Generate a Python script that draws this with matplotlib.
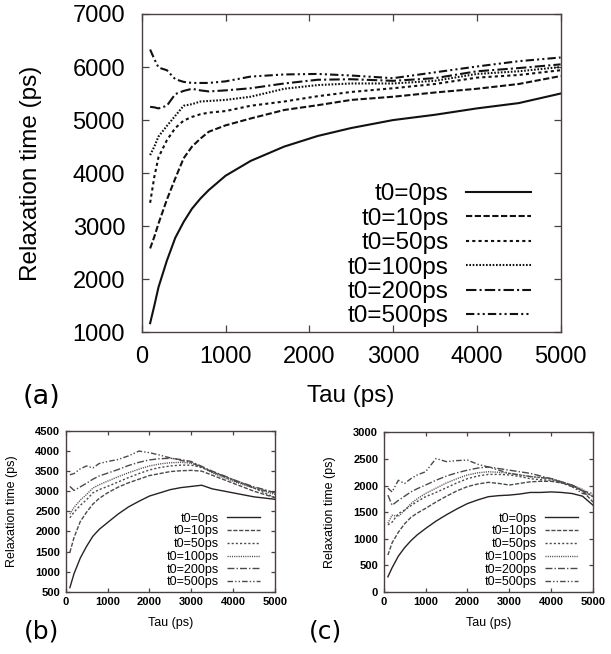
import matplotlib
matplotlib.use("Agg")
import matplotlib.pyplot as plt

plt.rcParams['font.family'] = ['Liberation Sans', 'DejaVu Sans']

labels = ["t0=0ps", "t0=10ps", "t0=50ps", "t0=100ps", "t0=200ps", "t0=500ps"]

# (a) top panel
tau_a = [100, 150, 200, 300, 400, 500, 600, 700, 800, 1000, 1300, 1700,
         2100, 2500, 3000, 3500, 4000, 4500, 5000]
a_t0 = [1170, 1500, 1850, 2350, 2780, 3080, 3330, 3520, 3680, 3950, 4230, 4500,
        4700, 4850, 5000, 5100, 5220, 5320, 5500]
a_t10 = [2580, 2800, 3050, 3500, 3900, 4280, 4500, 4650, 4780, 4900, 5030, 5190,
         5280, 5380, 5440, 5520, 5590, 5680, 5830]
a_t50 = [3440, 3930, 4300, 4620, 4850, 4990, 5060, 5110, 5140, 5170, 5270, 5350,
         5450, 5530, 5600, 5680, 5800, 5850, 5940]
a_t100 = [4340, 4500, 4690, 4890, 5080, 5270, 5300, 5350, 5360, 5380, 5440, 5590,
          5660, 5690, 5690, 5740, 5870, 5920, 6000]
a_t200 = [5250, 5240, 5220, 5270, 5490, 5550, 5590, 5560, 5540, 5560, 5600, 5690,
          5760, 5770, 5740, 5790, 5920, 5980, 6050]
a_t500 = [6330, 6150, 5990, 5940, 5770, 5720, 5700, 5700, 5700, 5730, 5820, 5860,
          5870, 5840, 5790, 5900, 6010, 6110, 6180]

# (b) and (c) bottom panels
tau_bc = [100, 200, 350, 500, 650, 800, 1000, 1250, 1500, 1750, 2000, 2250, 2500,
          2750, 3000, 3250, 3500, 3750, 4000, 4250, 4500, 4750, 5000]
b_t0 = [600, 950, 1340, 1630, 1880, 2050, 2220, 2430, 2610, 2750, 2880, 2960, 3040,
        3090, 3120, 3150, 3060, 3010, 2960, 2910, 2860, 2830, 2800]
b_t10 = [1480, 1850, 2250, 2480, 2680, 2820, 2960, 3100, 3210, 3300, 3390, 3440, 3490,
         3510, 3520, 3500, 3400, 3300, 3200, 3100, 3000, 2920, 2840]
b_t50 = [2340, 2480, 2650, 2790, 2960, 3040, 3120, 3230, 3340, 3440, 3530, 3590, 3630,
         3650, 3650, 3590, 3480, 3390, 3290, 3190, 3080, 2960, 2840]
b_t100 = [2430, 2600, 2780, 2920, 3080, 3160, 3250, 3360, 3460, 3550, 3630, 3680, 3710,
          3720, 3700, 3600, 3460, 3350, 3250, 3160, 3080, 3000, 2920]
b_t200 = [3120, 3020, 3110, 3200, 3300, 3380, 3450, 3540, 3640, 3720, 3780, 3810, 3820,
          3790, 3740, 3620, 3500, 3400, 3290, 3200, 3110, 3040, 2960]
b_t500 = [3410, 3440, 3560, 3630, 3580, 3690, 3740, 3790, 3880, 4000, 3960, 3900, 3830,
          3770, 3710, 3600, 3480, 3380, 3270, 3180, 3080, 3020, 2960]

c_t0 = [280, 450, 670, 830, 960, 1070, 1190, 1330, 1450, 1560, 1660, 1730, 1790,
        1810, 1820, 1840, 1870, 1870, 1880, 1870, 1850, 1800, 1630]
c_t10 = [690, 920, 1120, 1280, 1400, 1480, 1570, 1690, 1800, 1900, 1980, 2030, 2060,
         2040, 2010, 2040, 2070, 2080, 2080, 2050, 2010, 1900, 1690]
c_t50 = [1260, 1310, 1470, 1540, 1620, 1700, 1790, 1870, 1960, 2050, 2130, 2180, 2210,
         2210, 2200, 2170, 2130, 2110, 2100, 2050, 1980, 1900, 1790]
c_t100 = [1290, 1440, 1420, 1530, 1660, 1750, 1850, 1950, 2050, 2130, 2200, 2240, 2260,
          2250, 2230, 2200, 2170, 2150, 2130, 2070, 2010, 1930, 1790]
c_t200 = [1820, 1630, 1720, 1800, 1880, 1940, 2010, 2100, 2180, 2240, 2290, 2330, 2350,
          2320, 2290, 2260, 2230, 2180, 2130, 2070, 2010, 1900, 1850]
c_t500 = [1950, 1880, 2100, 2040, 2130, 2200, 2260, 2510, 2450, 2470, 2480, 2400, 2350,
          2290, 2230, 2200, 2170, 2150, 2130, 2060, 1980, 1850, 1820]

styles = ['-', (0, (3, 1.2)), (0, (1.5, 1.5)), (0, (0.8, 0.8)),
          (0, (5, 1.5, 1, 1.5)), (0, (4, 1.5, 1, 1.5, 1, 1.5))]
spine_col = '#4a4040'


def style_axes(ax, tick_size, tick_len, xpad, ypad, bold=False):
    ax.tick_params(direction='in', top=True, right=True, length=tick_len,
                   width=0.9, color=spine_col, labelsize=tick_size)
    ax.tick_params(axis='x', pad=xpad)
    ax.tick_params(axis='y', pad=ypad)
    for s in ax.spines.values():
        s.set_color(spine_col)
        s.set_linewidth(1.0)
    if bold:
        for lab in ax.get_xticklabels() + ax.get_yticklabels():
            lab.set_fontweight('bold')


fig = plt.figure(figsize=(6.11, 6.54), dpi=100)

# ---- (a)
ax = fig.add_axes([0.232, 0.492, 0.6855, 0.4866])
series_a = [a_t0, a_t10, a_t50, a_t100, a_t200, a_t500]
for ys, ls, lab in zip(series_a, styles, labels):
    ax.plot(tau_a, ys, color='#111111', lw=1.5, linestyle=ls, label=lab)
ax.set_xlim(0, 5000)
ax.set_ylim(1000, 7000)
ax.set_xticks(range(0, 5001, 1000))
ax.set_yticks(range(1000, 7001, 1000))
style_axes(ax, 17, 5, 10, 12)
ax.set_xlabel("Tau (ps)", fontsize=17.5, labelpad=12)
ax.set_ylabel("Relaxation time (ps)", fontsize=17.5, labelpad=22)
ax.legend(loc='lower right', bbox_to_anchor=(0.93, 0.015), frameon=False,
          markerfirst=False, fontsize=17.5, handlelength=2.7,
          handletextpad=0.7, labelspacing=0.10, borderpad=0, borderaxespad=0)
fig.text(0.068, 0.393, "(a)", fontsize=19.5, family='DejaVu Sans',
         ha='center', va='center')


def bottom_panel(rect, series, ylim, yticks, tag, tag_x):
    bx = fig.add_axes(rect)
    cols = ['#2a2220', '#4a4a4a', '#4a4a4a', '#5a4a45', '#4a4a4a', '#4a4a4a']
    for ys, ls, lab, c in zip(series, styles, labels, cols):
        bx.plot(tau_bc, ys, color=c, lw=1.0, linestyle=ls, label=lab)
    bx.set_xlim(0, 5000)
    bx.set_ylim(*ylim)
    bx.set_xticks(range(0, 5001, 1000))
    bx.set_yticks(yticks)
    style_axes(bx, 8, 3, 4, 4, bold=True)
    bx.set_xlabel("Tau (ps)", fontsize=9, labelpad=7)
    bx.set_ylabel("Relaxation time (ps)", fontsize=9, labelpad=12)
    bx.legend(loc='lower right', bbox_to_anchor=(0.93, 0.02), frameon=False,
              markerfirst=False, fontsize=9, handlelength=2.7,
              handletextpad=0.6, labelspacing=0.06, borderpad=0,
              borderaxespad=0)
    fig.text(tag_x, 0.035, tag, fontsize=18, family='DejaVu Sans',
             ha='center', va='center')


bottom_panel([0.1075, 0.0953, 0.3425, 0.2457],
             [b_t0, b_t10, b_t50, b_t100, b_t200, b_t500],
             (500, 4500), range(500, 4501, 500), "(b)", 0.068)
bottom_panel([0.628, 0.0953, 0.3425, 0.2434],
             [c_t0, c_t10, c_t50, c_t100, c_t200, c_t500],
             (0, 3000), range(0, 3001, 500), "(c)", 0.533)

fig.savefig("out.png", dpi=100)
